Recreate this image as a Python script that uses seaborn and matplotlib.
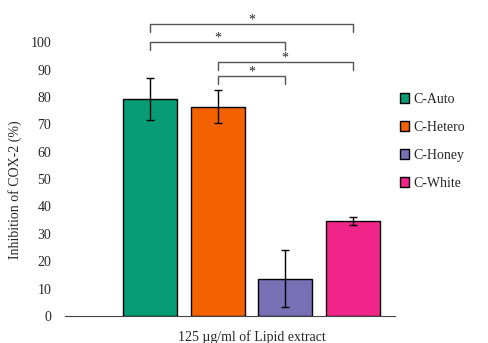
import pandas as pd
import matplotlib.pyplot as plt
import seaborn as sns

groups = ['C-Auto', 'C-Hetero', 'C-Honey', 'C-White']
inhibition = [79.1, 76.4, 13.5, 34.8]
err = [7.7, 6.0, 10.4, 1.5]
colors = ['#069C75', '#F46100', '#7770B5', '#F0258A']
xlabel = '125 \u00b5g/ml of Lipid extract'

# significance brackets: (group a, group b, height)
brackets = [(0, 3, 106.6), (0, 2, 100.0), (1, 3, 92.7), (1, 2, 87.6)]

df = pd.DataFrame({'x': [xlabel] * 4, 'group': groups, 'val': inhibition})

sns.set_style('white')
plt.rcParams['font.family'] = ['Liberation Serif', 'DejaVu Serif']

fig = plt.figure(figsize=(4.89, 3.43), dpi=100)
ax = fig.add_axes([0.133, 0.079, 0.675, 0.878])
sns.barplot(data=df, x='x', y='val', hue='group', palette=colors,
            saturation=1, errorbar=None, gap=0.2, edgecolor='black',
            linewidth=1, ax=ax)

centers = [p.get_x() + p.get_width() / 2 for p in ax.patches[:4]]
ax.errorbar(centers, inhibition, yerr=err, fmt='none', ecolor='black',
            elinewidth=1, capsize=3, capthick=1)

drop = 2.9
for a, b, h in brackets:
    xa, xb = centers[a], centers[b]
    ax.plot([xa, xa, xb, xb], [h - drop, h, h, h - drop], color='#555555',
            lw=1, clip_on=False)
    ax.text((xa + xb) / 2, h - 0.8, '*', ha='center', va='bottom',
            fontsize=10, clip_on=False)

ax.set_xlim(-0.553, 0.426)
ax.set_ylim(0, 110)
ax.set_yticks(range(0, 101, 10))
ax.tick_params(axis='y', length=0, pad=10, labelsize=10)
ax.tick_params(axis='x', length=0, pad=10, labelsize=10)
ax.set_xlabel('')
ax.set_ylabel('Inhibition of COX-2 (%)', fontsize=10)
ax.yaxis.set_label_coords(-0.13, 0.42)
for s in ['top', 'right', 'left']:
    ax.spines[s].set_visible(False)
ax.spines['bottom'].set_color('#444444')

ax.legend(loc='upper left', bbox_to_anchor=(0.806, 0.745),
          bbox_transform=fig.transFigure, frameon=False, fontsize=10,
          handlelength=0.7, handleheight=0.7, handletextpad=0.3,
          labelspacing=1.07, borderaxespad=0)

fig.savefig('out.png', dpi=100)
